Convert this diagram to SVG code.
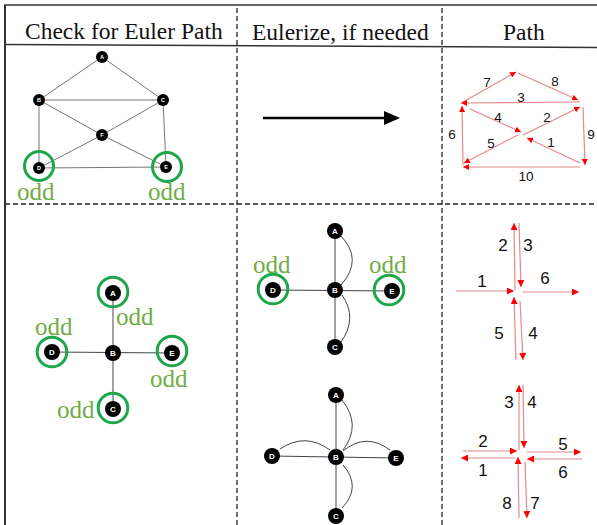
<svg xmlns="http://www.w3.org/2000/svg" width="597" height="525" viewBox="0 0 597 525">
<style>
.hdr{font-family:"Liberation Serif","Times New Roman",serif;font-size:23.5px;fill:#111}
.odd{font-family:"Liberation Serif","Times New Roman",serif;font-size:25px;fill:#70AD47}
.e{stroke:#777;stroke-width:1;fill:none}
.e2{stroke:#444;stroke-width:1;fill:none}
.n{fill:#000}
.nl{font-family:"Liberation Sans",Arial,sans-serif;font-weight:bold;fill:#fff;text-anchor:middle}
.ring{fill:none;stroke:#1DA64A;stroke-width:3}
.pa{stroke:#e38a8a;stroke-width:1.2;fill:none}
.pa1{marker-end:url(#ah1)}
.pa2{marker-end:url(#ah2)}
.num{font-family:"Liberation Sans",Arial,sans-serif;fill:#111;text-anchor:middle}
.dash{stroke:#222;stroke-width:1.3;stroke-dasharray:5 3;fill:none}
</style>
<defs>
<marker id="ah1" viewBox="0 0 10 10" refX="10" refY="5" markerWidth="6" markerHeight="6" markerUnits="userSpaceOnUse" orient="auto"><path d="M0,0 L10,5 L0,10 z" fill="#f00"/></marker>
<marker id="ah2" viewBox="0 0 10 10" refX="10" refY="5" markerWidth="8" markerHeight="7" markerUnits="userSpaceOnUse" orient="auto"><path d="M0,0 L10,5 L0,10 z" fill="#f00"/></marker>
</defs>
<rect width="597" height="525" fill="#fff"/>
<g id="table">
<line x1="4" y1="5" x2="597" y2="5" stroke="#333" stroke-width="1.5"/>
<line x1="5" y1="5" x2="5" y2="525" stroke="#333" stroke-width="2"/>
<line x1="5" y1="44.5" x2="597" y2="47.5" stroke="#333" stroke-width="1.5"/>
<line class="dash" x1="5" y1="204" x2="597" y2="204"/>
<line class="dash" x1="237" y1="8" x2="237" y2="525"/>
<line class="dash" x1="442" y1="8" x2="442" y2="525"/>
<text class="hdr" x="25" y="39">Check for Euler Path</text>
<text class="hdr" x="252" y="40">Eulerize, if needed</text>
<text class="hdr" x="503" y="40">Path</text>
</g>
<g id="graph1">
<g id="g1-edges">
<line class="e" x1="102" y1="57" x2="39" y2="100"/>
<line class="e" x1="102" y1="57" x2="163" y2="100"/>
<line class="e" x1="39" y1="100" x2="163" y2="100"/>
<line class="e" x1="39" y1="100" x2="102" y2="135"/>
<line class="e" x1="102" y1="135" x2="166" y2="167"/>
<line class="e" x1="163" y1="100" x2="102" y2="135"/>
<line class="e" x1="102" y1="135" x2="39" y2="168"/>
<line class="e" x1="39" y1="100" x2="39" y2="168"/>
<line class="e" x1="163" y1="100" x2="166" y2="167"/>
<line class="e" x1="39" y1="168" x2="166" y2="167"/>
</g>
<g id="g1-A"><circle class="n" cx="102" cy="57" r="6"/><text class="nl" x="102" y="59" font-size="5.5">A</text></g>
<g id="g1-B"><circle class="n" cx="39" cy="100" r="6"/><text class="nl" x="39" y="102" font-size="5.5">B</text></g>
<g id="g1-C"><circle class="n" cx="163" cy="100" r="6"/><text class="nl" x="163" y="102" font-size="5.5">C</text></g>
<g id="g1-F"><circle class="n" cx="102" cy="135" r="6"/><text class="nl" x="102" y="137" font-size="5.5">F</text></g>
<g id="g1-D"><circle class="n" cx="39" cy="168" r="6"/><text class="nl" x="39" y="170" font-size="5.5">D</text><circle class="ring" cx="39" cy="166" r="14.5"/></g>
<g id="g1-E"><circle class="n" cx="166" cy="167" r="6"/><text class="nl" x="166" y="169" font-size="5.5">E</text><circle class="ring" cx="167" cy="167" r="14.5"/></g>
<text class="odd" x="17" y="200">odd</text>
<text class="odd" x="148" y="200">odd</text>
</g>
<g id="bigarrow">
<line x1="263" y1="118" x2="386" y2="118" stroke="#000" stroke-width="2.5"/>
<polygon points="400,118 384,111 384,125" fill="#000"/>
</g>
<g id="path1">
<line class="pa pa1" x1="463" y1="102" x2="516" y2="72"/>
<line class="pa pa1" x1="518" y1="73" x2="578" y2="100"/>
<line class="pa pa1" x1="580" y1="102" x2="461" y2="103"/>
<line class="pa pa1" x1="470" y1="109" x2="521" y2="132"/>
<line class="pa pa1" x1="523" y1="135" x2="580" y2="107"/>
<line class="pa pa1" x1="580" y1="163" x2="527" y2="138"/>
<line class="pa pa1" x1="583" y1="107" x2="585" y2="165"/>
<line class="pa pa1" x1="580" y1="167" x2="463" y2="167"/>
<line class="pa pa1" x1="518" y1="135" x2="464" y2="163"/>
<line class="pa pa1" x1="463" y1="165" x2="462" y2="106"/>
<g font-size="13.5">
<text class="num" x="487" y="87">7</text>
<text class="num" x="555" y="86">8</text>
<text class="num" x="521" y="102">3</text>
<text class="num" x="498" y="122">4</text>
<text class="num" x="547" y="122">2</text>
<text class="num" x="452" y="139">6</text>
<text class="num" x="591" y="139">9</text>
<text class="num" x="491" y="148">5</text>
<text class="num" x="551" y="147">1</text>
<text class="num" x="526" y="181">10</text>
</g>
</g>
<g id="graph2">
<g id="g2-edges">
<line class="e2" x1="113" y1="293" x2="113" y2="409"/>
<line class="e2" x1="52" y1="352" x2="172" y2="353"/>
</g>
<g id="g2-A"><circle class="n" cx="113" cy="293" r="8"/><text class="nl" x="113" y="296" font-size="8">A</text><circle class="ring" cx="113" cy="292" r="14.8"/></g>
<g id="g2-B"><circle class="n" cx="113" cy="353" r="8"/><text class="nl" x="113" y="356" font-size="8">B</text></g>
<g id="g2-D"><circle class="n" cx="52" cy="352" r="8"/><text class="nl" x="52" y="355" font-size="8">D</text><circle class="ring" cx="52" cy="352" r="14.8"/></g>
<g id="g2-E"><circle class="n" cx="172" cy="353" r="8"/><text class="nl" x="172" y="356" font-size="8">E</text><circle class="ring" cx="172" cy="351" r="14.8"/></g>
<g id="g2-C"><circle class="n" cx="113" cy="409" r="8"/><text class="nl" x="113" y="412" font-size="8">C</text><circle class="ring" cx="113" cy="408" r="14.8"/></g>
<text class="odd" x="116" y="325">odd</text>
<text class="odd" x="35" y="335">odd</text>
<text class="odd" x="150" y="387">odd</text>
<text class="odd" x="57" y="418">odd</text>
</g>
<g id="graph3">
<g id="g3-edges">
<line class="e2" x1="335" y1="231" x2="335" y2="347"/>
<line class="e2" x1="273" y1="290" x2="392" y2="291"/>
<path class="e2" d="M340,235 Q364,259 341,285"/>
<path class="e2" d="M342,295 Q358,318 341,342"/>
</g>
<g id="g3-A"><circle class="n" cx="335" cy="231" r="8"/><text class="nl" x="335" y="234" font-size="8">A</text></g>
<g id="g3-B"><circle class="n" cx="335" cy="290" r="8"/><text class="nl" x="335" y="293" font-size="8">B</text></g>
<g id="g3-D"><circle class="n" cx="273" cy="290" r="8"/><text class="nl" x="273" y="293" font-size="8">D</text><circle class="ring" cx="273" cy="289" r="14.8"/></g>
<g id="g3-E"><circle class="n" cx="392" cy="291" r="8"/><text class="nl" x="392" y="294" font-size="8">E</text><circle class="ring" cx="389" cy="290" r="14.8"/></g>
<g id="g3-C"><circle class="n" cx="335" cy="347" r="8"/><text class="nl" x="335" y="350" font-size="8">C</text></g>
<text class="odd" x="253" y="273">odd</text>
<text class="odd" x="369" y="273">odd</text>
</g>
<g id="graph4">
<g id="g4-edges">
<line class="e2" x1="336" y1="395" x2="336" y2="516"/>
<line class="e2" x1="272" y1="456" x2="396" y2="458"/>
<path class="e2" d="M342,400 Q362,425 343,450"/>
<path class="e2" d="M280,449 Q305,432 330,450"/>
<path class="e2" d="M343,451 Q366,432 390,450"/>
<path class="e2" d="M343,465 Q362,487 342,508"/>
</g>
<g id="g4-A"><circle class="n" cx="336" cy="395" r="8"/><text class="nl" x="336" y="398" font-size="8">A</text></g>
<g id="g4-B"><circle class="n" cx="336" cy="457" r="8"/><text class="nl" x="336" y="460" font-size="8">B</text></g>
<g id="g4-D"><circle class="n" cx="272" cy="456" r="8"/><text class="nl" x="272" y="459" font-size="8">D</text></g>
<g id="g4-E"><circle class="n" cx="396" cy="458" r="8"/><text class="nl" x="396" y="461" font-size="8">E</text></g>
<g id="g4-C"><circle class="n" cx="336" cy="516" r="8"/><text class="nl" x="336" y="519" font-size="8">C</text></g>
</g>
<g id="path2">
<line class="pa pa2" x1="456" y1="291" x2="514" y2="291"/>
<line class="pa pa2" x1="515" y1="290" x2="514" y2="223"/>
<line class="pa pa2" x1="519" y1="223" x2="521" y2="287"/>
<line class="pa pa2" x1="523" y1="292" x2="579" y2="292"/>
<line class="pa pa2" x1="520" y1="301" x2="523" y2="360"/>
<line class="pa pa2" x1="516" y1="360" x2="514" y2="297"/>
<g font-size="17">
<text class="num" x="503" y="251">2</text>
<text class="num" x="528" y="251">3</text>
<text class="num" x="482" y="287">1</text>
<text class="num" x="545" y="284">6</text>
<text class="num" x="499" y="339">5</text>
<text class="num" x="533" y="339">4</text>
</g>
</g>
<g id="path3">
<line class="pa pa2" x1="519" y1="450" x2="519" y2="385"/>
<line class="pa pa2" x1="523" y1="385" x2="524" y2="448"/>
<line class="pa pa2" x1="463" y1="451" x2="517" y2="451"/>
<line class="pa pa2" x1="515" y1="458" x2="461" y2="458"/>
<line class="pa pa2" x1="527" y1="452" x2="581" y2="452"/>
<line class="pa pa2" x1="582" y1="459" x2="527" y2="459"/>
<line class="pa pa2" x1="519" y1="518" x2="518" y2="457"/>
<line class="pa pa2" x1="525" y1="462" x2="527" y2="518"/>
<g font-size="17">
<text class="num" x="509" y="408">3</text>
<text class="num" x="532" y="408">4</text>
<text class="num" x="483" y="447">2</text>
<text class="num" x="563" y="450">5</text>
<text class="num" x="483" y="476">1</text>
<text class="num" x="563" y="478">6</text>
<text class="num" x="507" y="509">8</text>
<text class="num" x="535" y="509">7</text>
</g>
</g>
</svg>
